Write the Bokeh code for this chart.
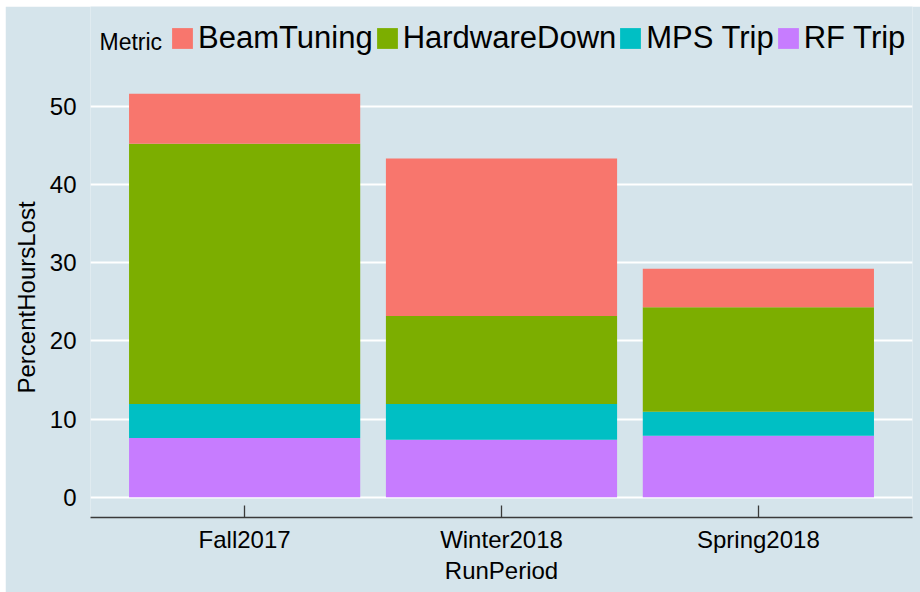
from bokeh.plotting import figure
from bokeh.models import (ColumnDataSource, FactorRange, Range1d, FixedTicker,
                          Legend, LegendItem, Label, Title)
from bokeh.embed import file_html
from bokeh.resources import INLINE

# ---- data ----
periods = ["Fall2017", "Winter2018", "Spring2018"]
rf_trip = [7.57, 7.36, 7.87]
mps_trip = [4.35, 4.56, 3.07]
hardware_down = [33.27, 11.26, 13.34]
beam_tuning = [6.40, 20.12, 4.92]
metric_labels = ["BeamTuning", "HardwareDown", "MPS Trip", "RF Trip"]
y_ticks = [0, 10, 20, 30, 40, 50]

BG = "#d5e4eb"
FONT = "Liberation Sans"
colors = {"bt": "#F8766D", "hw": "#7CAE00", "mps": "#00BFC4", "rf": "#C77CFF"}

source = ColumnDataSource(dict(period=periods, rf=rf_trip, mps=mps_trip,
                               hw=hardware_down, bt=beam_tuning))

# layout (px)
FIG_W, FIG_H = 915, 586
B_LEFT, B_RIGHT, B_BOTTOM = 85, 8, 75
PANEL_H = 444          # height of the data panel
STRIP_H = FIG_H - B_BOTTOM - PANEL_H   # legend strip above the panel (same background)

total_max = max(a + b + c + d for a, b, c, d in zip(rf_trip, mps_trip, hardware_down, beam_tuning))
span = total_max * 1.1
y_start = -total_max * 0.05
y_top = total_max * 1.05
y_end = y_top + STRIP_H * span / PANEL_H

p = figure(x_range=FactorRange(*periods, range_padding=0.1, range_padding_units="absolute"),
           y_range=Range1d(y_start, y_end),
           width=FIG_W, height=FIG_H, output_backend="svg", toolbar_location=None,
           background_fill_color=BG, border_fill_color=BG, outline_line_color=None,
           min_border_left=B_LEFT, min_border_right=B_RIGHT, min_border_top=0,
           min_border_bottom=B_BOTTOM)
p.styles = {"margin-left": "5px", "margin-top": "6px"}

stack_keys = ["rf", "mps", "hw", "bt"]
renderers = p.vbar_stack(stack_keys, x="period", width=0.9, source=source,
                         color=[colors[k] for k in stack_keys], line_color=None)
rmap = dict(zip(stack_keys, renderers))

# grid
p.xgrid.grid_line_color = None
p.ygrid.grid_line_color = "white"
p.ygrid.grid_line_width = 2
p.yaxis.ticker = FixedTicker(ticks=y_ticks)

# axes
p.xaxis.axis_label = "RunPeriod"
for ax in (p.xaxis, p.yaxis):
    ax.axis_label_text_font = FONT
    ax.axis_label_text_font_style = "normal"
    ax.axis_label_text_font_size = "24px"
    ax.axis_label_text_color = "black"
    ax.major_label_text_font = FONT
    ax.major_label_text_font_size = "24px"
    ax.major_label_text_color = "black"
    ax.minor_tick_line_color = None

p.xaxis.axis_line_color = "#3a3a3a"
p.xaxis.axis_line_width = 1.3
p.xaxis.major_tick_line_color = "#3a3a3a"
p.xaxis.major_tick_line_width = 1.3
p.xaxis.major_tick_in = 12
p.xaxis.major_tick_out = 0
p.xaxis.major_label_standoff = 8
p.xaxis.axis_label_standoff = 1

p.yaxis.axis_line_color = None
p.yaxis.major_tick_line_color = None
p.yaxis.major_tick_in = 0
p.yaxis.major_tick_out = 0
p.yaxis.major_label_standoff = 14

# y-axis title, centred on the data panel (not on the legend strip)
ytitle = Title(text="PercentHoursLost", align="left", offset=124, vertical_align="middle",
               standoff=11, text_font=FONT, text_font_size="24px",
               text_font_style="normal", text_color="black")
p.add_layout(ytitle, "left")

# legend
keys_in_legend = ["bt", "hw", "mps", "rf"]
items = [LegendItem(label=lab, renderers=[rmap[k]]) for lab, k in zip(metric_labels, keys_in_legend)]
legend = Legend(items=items, orientation="horizontal", location=(79, 461),
                glyph_width=26, glyph_height=26, label_standoff=3, spacing=1,
                padding=0, margin=0, border_line_color=None, background_fill_alpha=0,
                label_text_font=FONT, label_text_font_size="31px", label_text_color="black")
p.add_layout(legend, "center")

title = Label(x=9, y=475.5, x_units="screen", y_units="screen", text="Metric",
              text_font=FONT, text_font_size="23px", text_color="black",
              text_baseline="alphabetic")
p.add_layout(title)

open("out.html", "w").write(file_html(p, INLINE))
